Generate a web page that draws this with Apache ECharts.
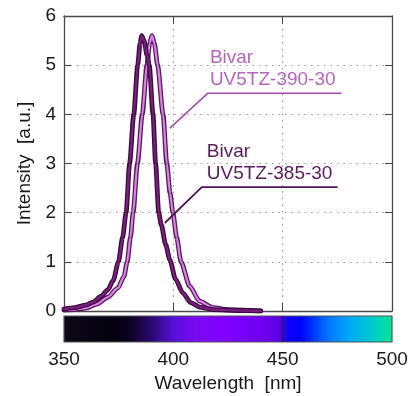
<!DOCTYPE html>
<html><head><meta charset="utf-8">
<script src="https://cdn.jsdelivr.net/npm/echarts@6/dist/echarts.min.js"></script>
<style>html,body{margin:0;padding:0;background:#fff}#c{width:412px;height:396px}</style>
</head><body><div id="c"></div>
<script>
// Wavelength (nm) and intensity (a.u.) for each LED
const wl385 = [350,355,360,363.2,367,370,372.5,374.9,376.8,378.4,380.0,381.9,383.7,384.8,385.5,386.6,388,389,390.7,391.9,393.3,394.5,396.5,398.4,401,404.3,408,412,418,430,440];
const int385 = [0.04,0.07,0.12,0.18,0.3,0.43,0.62,1.0,1.5,2.0,3.0,4.0,5.0,5.45,5.6,5.5,5.2,5.0,4.0,3.0,2.0,1.75,1.35,1.04,0.65,0.37,0.17,0.08,0.03,0.01,0];
const wl390 = [350,355,360,365,370,374.7,377.4,378.9,380.4,381.6,383.6,385.8,387.9,389.2,390.2,391.3,392.8,395.3,397.0,398.5,399.8,401.5,403.5,407.5,412,418,425,440];
const int390 = [0.02,0.03,0.06,0.14,0.28,0.47,0.7,1.0,1.5,2.0,3.0,4.0,5.0,5.45,5.6,5.45,5.0,4.0,3.0,2.4,2.0,1.5,1.0,0.5,0.2,0.07,0.03,0];
// Annotation leader lines (data coordinates)
const leader390 = [[398.4,3.72],[415.8,4.43],[476.9,4.43]];
const leader385 = [[396.1,1.79],[413,2.52],[475.1,2.52]];
const label390 = ['Bivar','UV5TZ-390-30'];
const label385 = ['Bivar','UV5TZ-385-30'];
// Axis ranges
const xMin = 350, xMax = 500, xStep = 50;
const yMin = 0, yMax = 6, yStep = 1;
// Spectrum colour bar stops (wavelength, colour)
const specWl = [350,372.5,380,390,400,410,425,440,449,452,458,470,480,490,500];
const specCol = ['#0c0818','#050210','#0a0420','#2a0870','#5510d8','#7a08f0','#8000ff','#7000f0','#5a00e0','#1000ff','#0000ff','#0070ff','#00a8f8','#00c8d0','#00e890'];

const pair = (xs, ys) => xs.map((x,i)=>[x, ys[i]]);
const FONT = 'Liberation Sans, Arial, sans-serif';
const txt = '#1a1a1a';
const frame = '#4a4a4a';
const dotted = {show:true, lineStyle:{color:'#999', type:[1.5,5], width:1}};

const chart = echarts.init(document.getElementById('c'), null, {renderer:'canvas'});
const lineSeries = (name, data, color, width, z) => ({
  name, type:'line', data, xAxisIndex:0, yAxisIndex:0, showSymbol:false, symbol:'none',
  smooth:0.25, smoothMonotone:'x', lineStyle:{color, width, cap:'round', join:'round'}, z, silent:true
});
const gradStops = specWl.map((w,i)=>({offset:(w-xMin)/(xMax-xMin), color:specCol[i]}));

chart.setOption({
  animation:false,
  grid:[
    {left:64, right:20, top:16, bottom:85},
    {left:64, right:20, top:316, bottom:54}
  ],
  xAxis:[
    {gridIndex:0, type:'value', min:xMin, max:xMax, interval:xStep, position:'bottom',
     axisLine:{show:true, onZero:false, lineStyle:{color:frame, width:1.3}},
     axisTick:{show:true, inside:true, length:8, lineStyle:{color:frame}},
     axisLabel:{show:false}, splitLine:dotted},
    {gridIndex:0, type:'value', min:xMin, max:xMax, interval:xStep, position:'top',
     axisLine:{show:true, onZero:false, lineStyle:{color:frame, width:1.3}},
     axisTick:{show:true, inside:true, length:8, lineStyle:{color:frame}},
     axisLabel:{show:false}, splitLine:{show:false}},
    {gridIndex:1, type:'value', min:xMin, max:xMax, interval:xStep, position:'bottom',
     axisLine:{show:false}, axisTick:{show:false}, splitLine:{show:false},
     axisLabel:{show:true, color:txt, fontSize:19, fontFamily:FONT, margin:8},
     name:'Wavelength  [nm]', nameLocation:'middle', nameGap:32,
     nameTextStyle:{color:txt, fontSize:19, fontFamily:FONT}}
  ],
  yAxis:[
    {gridIndex:0, type:'value', min:yMin, max:yMax, interval:yStep, position:'left',
     axisLine:{show:true, onZero:false, lineStyle:{color:frame, width:1.3}},
     axisTick:{show:true, inside:true, length:7, lineStyle:{color:frame}},
     axisLabel:{show:true, color:txt, fontSize:19, fontFamily:FONT, margin:8},
     splitLine:dotted,
     name:'Intensity  [a.u.]', nameLocation:'middle', nameGap:28,
     nameTextStyle:{color:txt, fontSize:19, fontFamily:FONT}},
    {gridIndex:0, type:'value', min:yMin, max:yMax, interval:yStep, position:'right',
     axisLine:{show:true, onZero:false, lineStyle:{color:frame, width:1.3}},
     axisTick:{show:true, inside:true, length:7, lineStyle:{color:frame}},
     axisLabel:{show:false}, splitLine:{show:false}},
    {gridIndex:1, type:'value', min:0, max:1, show:false}
  ],
  series:[
    {type:'custom', xAxisIndex:2, yAxisIndex:2, data:[[xMin,0,xMax,1,450]], silent:true,
     renderItem:(params, api)=>{
       const p0 = api.coord([api.value(0), api.value(1)]);
       const p1 = api.coord([api.value(2), api.value(3)]);
       const pl = api.coord([api.value(4), 0]);
       return {type:'group', children:[
         {type:'rect', shape:{x:p0[0], y:p1[1], width:p1[0]-p0[0], height:p0[1]-p1[1]},
          style:{fill:new echarts.graphic.LinearGradient(0,0,1,0,gradStops), stroke:'#555', lineWidth:1.2}},
         {type:'line', shape:{x1:pl[0], y1:p1[1], x2:pl[0], y2:p0[1]}, style:{stroke:'#111', lineWidth:1}}
       ]};
     }},
    lineSeries('390o', pair(wl390,int390), '#5a1860', 4.8, 2),
    lineSeries('390i', pair(wl390,int390), '#dc84e4', 2.2, 3),
    lineSeries('385o', pair(wl385,int385), '#3e0a42', 4.8, 4),
    lineSeries('385i', pair(wl385,int385), '#7c2080', 2.2, 5),
    {type:'line', data:leader390, xAxisIndex:0, yAxisIndex:0, symbol:'none', silent:true,
     lineStyle:{color:'#a050aa', width:1.6}, z:6},
    {type:'line', data:leader385, xAxisIndex:0, yAxisIndex:0, symbol:'none', silent:true,
     lineStyle:{color:'#501458', width:1.8}, z:6}
  ]
});

// Annotation text positioned from the leader line end points
const a1 = chart.convertToPixel({gridIndex:0}, leader390[1]);
const a2 = chart.convertToPixel({gridIndex:0}, leader385[1]);
chart.setOption({graphic:[
  {type:'text', left:a1[0]+2, top:a1[1]-45, style:{text:label390[0], fill:'#b466be', font:'19px '+FONT}},
  {type:'text', left:a1[0]+2, top:a1[1]-23, style:{text:label390[1], fill:'#b466be', font:'19px '+FONT}},
  {type:'text', left:a2[0]+5, top:a2[1]-45, style:{text:label385[0], fill:'#5a1a5e', font:'19px '+FONT}},
  {type:'text', left:a2[0]+5, top:a2[1]-23, style:{text:label385[1], fill:'#5a1a5e', font:'19px '+FONT}}
]});
</script></body></html>
